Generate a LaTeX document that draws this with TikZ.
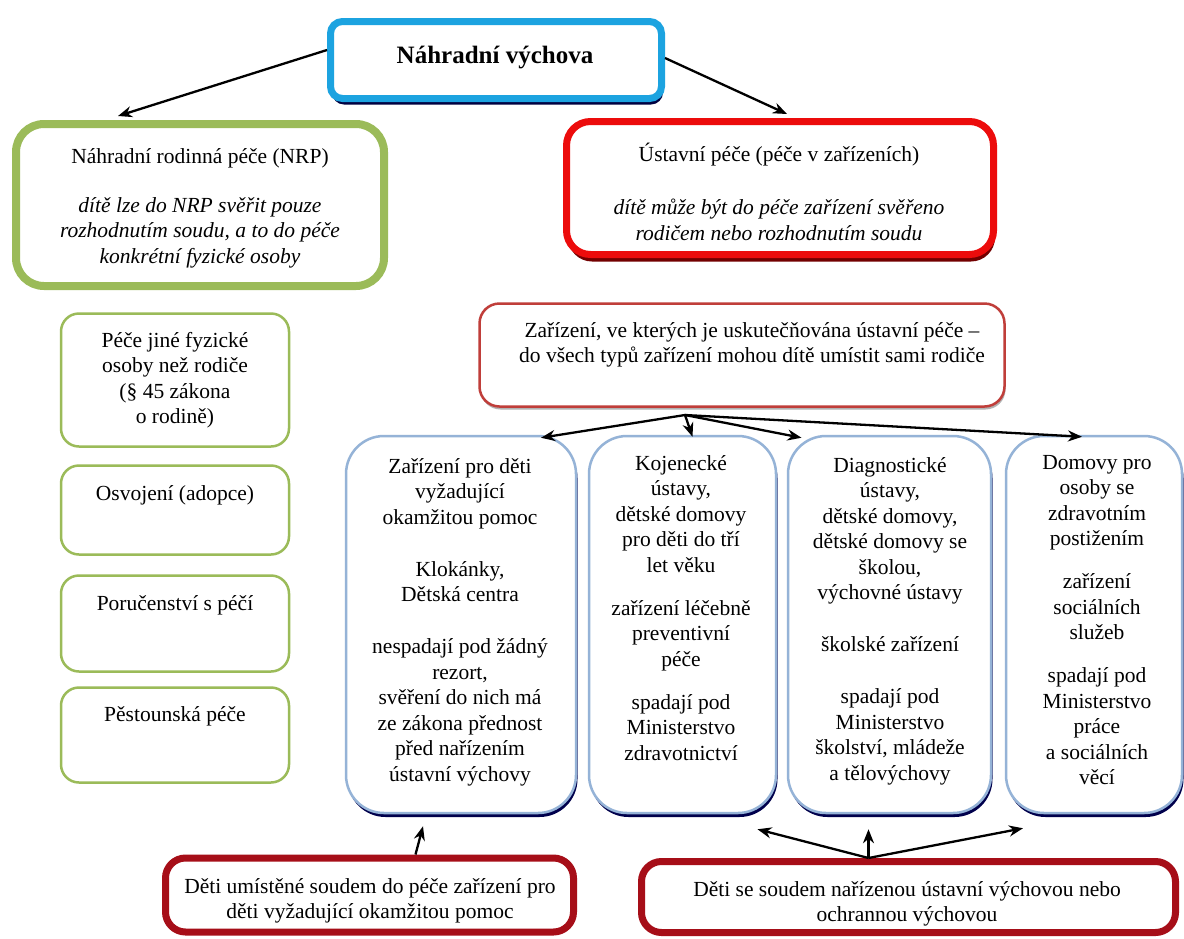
\documentclass[tikz,border=0pt]{standalone}
\usepackage{fontspec}
\setmainfont{Liberation Serif}
\usetikzlibrary{arrows.meta,shadows}

\definecolor{titleblue}{RGB}{28,163,224}
\definecolor{nrpgreen}{RGB}{155,187,89}
\definecolor{ustred}{RGB}{236,12,12}
\definecolor{zarred}{RGB}{192,62,58}
\definecolor{boxblue}{RGB}{149,179,215}
\definecolor{darkred}{RGB}{166,14,24}

\begin{document}
\begin{tikzpicture}[x=1pt,y=-1pt,
  txt/.style={font=\fontsize{21.5}{25.5}\selectfont,align=center,inner sep=0pt,anchor=north,
    yshift=-5pt,execute at begin node={\rule{0pt}{20pt}}},
  arr/.style={line width=2.3pt,-{Stealth[length=14pt,width=11pt]}},
  topbox/.style={draw=titleblue,line width=7pt,rounded corners=12pt,fill=white,inner sep=0pt,
    drop shadow={shadow xshift=1.5pt,shadow yshift=-6pt,fill=black!75!blue,opacity=1}},
  nrpbox/.style={draw=nrpgreen,line width=8pt,rounded corners=28pt,fill=white,inner sep=0pt},
  ustbox/.style={draw=ustred,line width=7pt,rounded corners=24pt,fill=white,inner sep=0pt,
    drop shadow={shadow xshift=1.5pt,shadow yshift=-7pt,fill=black!55!red,opacity=1}},
  formbox/.style={draw=nrpgreen,line width=2.5pt,rounded corners=18pt,fill=white,inner sep=0pt},
  zarbox/.style={draw=zarred,line width=2.5pt,rounded corners=20pt,fill=white,inner sep=0pt,
    drop shadow={shadow xshift=1pt,shadow yshift=-3pt,fill=black!30,opacity=1}},
  typbox/.style={draw=boxblue,line width=2.5pt,rounded corners=38pt,fill=white,inner sep=0pt,
    minimum height=377pt,
    drop shadow={shadow xshift=1.5pt,shadow yshift=-4pt,fill=black!70!blue,opacity=1}},
  soudbox/.style={draw=darkred,line width=7pt,rounded corners=20pt,fill=white,inner sep=0pt}]

\useasboundingbox[fill=white] (0,0) rectangle (1184,938);

% Top of the tree
\node[topbox,minimum width=331pt,minimum height=77pt] (vych) at (496,60) {};
\node[txt,font=\fontsize{25}{30}\selectfont\bfseries] (vych-t) at (495,38) {Náhradní výchova};

% Náhradní rodinná péče
\node[nrpbox,minimum width=368pt,minimum height=162pt] (nrp) at (200,205) {};
\node[txt] (nrp-t) at (200,143) {Náhradní rodinná péče (NRP)\\[23.5pt]
  \textit{dítě lze do NRP svěřit pouze}\\
  \textit{rozhodnutím soudu, a to do péče}\\
  \textit{konkrétní fyzické osoby}};

% Ústavní péče
\node[ustbox,minimum width=427pt,minimum height=133pt] (ust) at (780,188) {};
\node[txt] (ust-t) at (779,138) {Ústavní péče (péče v zařízeních)\\[27.5pt]
  \textit{dítě může být do péče zařízení svěřeno}\\
  \textit{rodičem nebo rozhodnutím soudu}};

% Forms of NRP
\node[formbox,minimum width=228pt,minimum height=133pt] (f1) at (175,380) {};
\node[txt] (f1-t) at (175,327) {Péče jiné fyzické\\osoby než rodiče\\(§ 45 zákona\\o rodině)};
\node[formbox,minimum width=228pt,minimum height=89pt] (f2) at (175,510) {};
\node[txt] (f2-t) at (175,475) {Osvojení (adopce)};
\node[formbox,minimum width=228pt,minimum height=96pt] (f3) at (175,623.5) {};
\node[txt] (f3-t) at (175,585) {Poručenství s péčí};
\node[formbox,minimum width=228pt,minimum height=95pt] (f4) at (175,735) {};
\node[txt] (f4-t) at (175,696) {Pěstounská péče};

% Zařízení
\node[zarbox,minimum width=525pt,minimum height=103pt] (zar) at (742,355) {};
\node[txt] (zar-t) at (752,317) {Zařízení, ve kterých je uskutečňována ústavní péče –\\
  do všech typů zařízení mohou dítě umístit sami rodiče};

% Types of facilities
\node[typbox,minimum width=230pt] (d1) at (461,624.5) {};
\node[txt] (d1-t) at (460,453) {Zařízení pro děti\\vyžadující\\okamžitou pomoc\\[26.5pt]
  Klokánky,\\Dětská centra\\[26.5pt]
  nespadají pod žádný\\rezort,\\svěření do nich má\\ze zákona přednost\\před nařízením\\ústavní výchovy};
\node[typbox,minimum width=187pt] (d2) at (682.5,624.5) {};
\node[txt] (d2-t) at (681,450) {Kojenecké\\ústavy,\\dětské domovy\\pro děti do tří\\let věku\\[17.5pt]
  zařízení léčebně\\preventivní\\péče\\[17.5pt]
  spadají pod\\Ministerstvo\\zdravotnictví};
\node[typbox,minimum width=203pt] (d3) at (889.5,624.5) {};
\node[txt] (d3-t) at (890,452) {Diagnostické\\ústavy,\\dětské domovy,\\dětské domovy se\\školou,\\výchovné ústavy\\[26.5pt]
  školské zařízení\\[26.5pt]
  spadají pod\\Ministerstvo\\školství, mládeže\\a tělovýchovy};
\node[typbox,minimum width=176pt] (d4) at (1094,624.5) {};
\node[txt] (d4-t) at (1097,450) {Domovy pro\\osoby se\\zdravotním\\postižením\\[17.5pt]
  zařízení\\sociálních\\služeb\\[17.5pt]
  spadají pod\\Ministerstvo\\práce\\a sociálních\\věcí};

% Children placed by court
\node[soudbox,minimum width=408pt,minimum height=74pt] (b1) at (369.5,895) {};
\node[txt] (b1-t) at (370,873) {Děti umístěné soudem do péče zařízení pro\\děti vyžadující okamžitou pomoc};
\node[soudbox,minimum width=534pt,minimum height=71pt] (b2) at (908.5,897) {};
\node[txt] (b2-t) at (907,876) {Děti se soudem nařízenou ústavní výchovou nebo\\ochrannou výchovou};

% Arrows
\draw[arr] ([yshift=10pt]vych.west) -- ([xshift=-82pt,yshift=4pt]nrp.north);
\draw[arr] ([yshift=2pt]vych.east) -- ([xshift=7pt,yshift=4pt]ust.north);

\coordinate (fork) at (685,415);
\draw[arr] (fork) -- ([xshift=80pt,yshift=-3pt]d1.north);
\draw[arr] (fork) -- ([xshift=10pt,yshift=-2pt]d2.north);
\draw[arr] (fork) -- ([xshift=-88pt,yshift=-3pt]d3.north);
\draw[arr] (fork) -- ([xshift=-12pt,yshift=-2pt]d4.north);

\draw[arr] ([xshift=46pt]b1.north) -- ([xshift=-38pt,yshift=-12pt]d1.south);
\draw[arr] ([xshift=-40pt]b2.north) -- ([xshift=75pt,yshift=-15pt]d2.south);
\draw[arr] ([xshift=-40pt]b2.north) -- ([xshift=-21pt,yshift=-15pt]d3.south);
\draw[arr] ([xshift=-40pt]b2.north) -- ([xshift=-71pt,yshift=-14pt]d4.south);
\end{tikzpicture}
\end{document}
